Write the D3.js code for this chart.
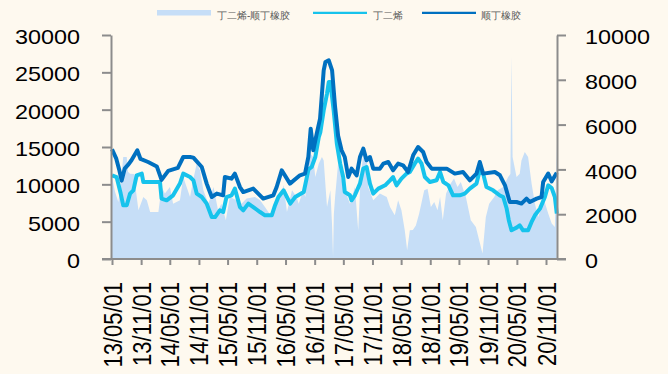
<!DOCTYPE html>
<html>
<head>
<meta charset="utf-8">
<script src="https://cdn.jsdelivr.net/npm/d3@7"></script>
<style>
html,body{margin:0;padding:0;background:#FEF9EF;}
svg{display:block;}
text{font-family:"Liberation Sans",Arial,sans-serif;}
</style>
</head>
<body>
<div id="chart"></div>
<script>
// ---------------- data ----------------
const seriesNames = ["丁二烯-顺丁橡胶", "丁二烯", "顺丁橡胶"];
const xTickLabels = ["13/05/01","13/11/01","14/05/01","14/11/01","15/05/01","15/11/01","16/05/01","16/11/01",
  "17/05/01","17/11/01","18/05/01","18/11/01","19/05/01","19/11/01","20/05/01","20/11/01"];
const leftTicks = [0,5000,10000,15000,20000,25000,30000];
const rightTicks = [0,2000,4000,6000,8000,10000];

// 顺丁橡胶 (left axis)
const brDates = ["2013-05-01","2013-05-28","2013-06-15","2013-07-01","2013-07-20","2013-08-10","2013-09-01","2013-10-08",
 "2013-10-28","2013-12-15","2014-02-08","2014-03-10","2014-04-21","2014-06-21","2014-07-25","2014-09-06","2014-09-27",
 "2014-11-19","2014-12-20","2015-01-21","2015-02-22","2015-04-03","2015-04-14","2015-05-26","2015-06-16","2015-07-18",
 "2015-08-08","2015-10-10","2015-12-12","2016-02-14","2016-03-06","2016-04-07","2016-05-29","2016-07-31","2016-09-01",
 "2016-09-22","2016-10-07","2016-10-23","2016-11-14","2016-12-05","2016-12-17","2016-12-28","2017-01-08","2017-01-29",
 "2017-02-19","2017-03-10","2017-03-29","2017-04-20","2017-05-10","2017-06-01","2017-06-22","2017-07-24","2017-08-14",
 "2017-09-04","2017-09-25","2017-10-16","2017-11-06","2017-12-18","2018-01-09","2018-02-09","2018-03-11","2018-04-12",
 "2018-05-13","2018-06-14","2018-07-16","2018-08-16","2018-09-17","2018-10-09","2018-11-10","2019-02-13","2019-04-05",
 "2019-05-27","2019-07-09","2019-08-20","2019-09-10","2019-10-01","2019-12-14","2020-01-15","2020-02-16","2020-03-17",
 "2020-04-29","2020-05-30","2020-07-01","2020-07-22","2020-09-03","2020-10-04","2020-10-14","2020-11-15","2020-12-07",
 "2021-01-08"];
const brValues = [14700,13440,12000,10500,12100,12600,13215,14555,
 13400,12990,12400,10600,11800,12200,13660,13660,13580,
 12320,10100,8300,8760,8530,10980,10765,11435,9640,
 8970,9425,8090,8530,9640,11880,10100,11210,11435,
 13660,17460,14555,16790,18800,22150,25270,26380,26600,
 25270,20350,16500,14555,13660,10980,12100,11210,13660,
 14780,13215,13660,12100,12100,12770,12990,11880,12770,
 12545,11650,13885,15000,14330,12990,12100,12100,11435,
 11650,10540,11435,12990,11435,11650,11210,9870,7630,
 7630,7420,8090,7630,8090,8300,10310,11450,10400,
 11550];

// 丁二烯 (left axis)
const bdDates = ["2013-05-01","2013-05-30","2013-06-25","2013-07-11","2013-08-02","2013-08-23","2013-09-13","2013-10-04",
 "2013-11-05","2013-11-15","2014-02-28","2014-03-10","2014-04-11","2014-05-22","2014-07-04","2014-07-25","2014-09-06",
 "2014-09-27","2014-10-18","2014-11-19","2014-12-20","2015-01-21","2015-02-11","2015-03-13","2015-04-03","2015-04-24",
 "2015-05-26","2015-06-16","2015-07-18","2015-08-08","2015-09-09","2015-10-10","2015-11-22","2015-12-23","2016-02-04",
 "2016-02-25","2016-03-17","2016-04-19","2016-05-10","2016-05-31","2016-07-01","2016-08-24","2016-09-23","2016-10-13",
 "2016-11-05","2016-11-27","2016-12-07","2016-12-28","2017-01-18","2017-01-29","2017-02-08","2017-03-01","2017-03-21",
 "2017-04-11","2017-04-30","2017-05-10","2017-06-12","2017-06-22","2017-07-13","2017-08-14","2017-09-04","2017-09-25",
 "2017-10-16","2017-11-06","2017-12-08","2018-01-20","2018-02-20","2018-03-11","2018-04-02","2018-05-03","2018-06-04",
 "2018-06-25","2018-07-26","2018-08-16","2018-09-07","2018-09-28","2018-10-30","2018-12-11","2019-01-02","2019-01-23",
 "2019-02-24","2019-03-25","2019-05-06","2019-06-07","2019-07-09","2019-08-20","2019-09-10","2019-10-01","2019-10-22",
 "2019-12-03","2020-01-15","2020-02-05","2020-02-26","2020-03-11","2020-03-28","2020-04-29","2020-05-19","2020-06-09",
 "2020-07-11","2020-08-02","2020-08-23","2020-09-24","2020-10-25","2020-11-15","2020-12-07","2020-12-27","2021-01-08"];
const bdValues = [11210,10980,8760,7190,7190,8760,9200,11210,
 11435,10310,10310,8090,7860,8530,10100,11435,10980,
 10540,8760,8300,7420,5620,5620,6520,6290,8300,
 8530,9425,6960,6520,7420,6960,6290,5850,5850,
 7200,8300,9200,8300,7420,8300,8970,12000,12320,
 13660,16335,17000,19910,22150,23700,23700,19900,15450,
 12770,10980,8970,8530,7860,8530,10100,12100,12320,
 10100,8760,9425,9870,10540,10980,9870,10765,11435,
 11650,12770,13440,12770,10980,10310,10540,11650,10310,
 9870,8530,8530,8760,9425,10100,11880,11435,9640,
 9200,8500,8300,6800,5200,3840,4200,4510,3840,
 3840,4960,5850,6750,8300,9870,9500,8300,6080];

// 丁二烯-顺丁橡胶 (right axis)
const spreadDates = ["2013-05-01","2013-05-20","2013-06-10","2013-06-27","2013-07-11","2013-08-02","2013-08-10","2013-08-23",
 "2013-09-18","2013-09-30","2013-10-15","2013-11-01","2013-11-15","2013-12-07","2013-12-28","2014-02-18","2014-03-10",
 "2014-03-31","2014-05-02","2014-05-22","2014-07-04","2014-07-25","2014-08-11","2014-09-06","2014-09-25","2014-10-18",
 "2014-11-08","2014-11-29","2014-12-31","2015-02-01","2015-03-02","2015-03-23","2015-04-20","2015-05-15","2015-06-27",
 "2015-07-28","2015-08-29","2015-10-21","2015-11-22","2015-12-23","2016-02-04","2016-02-25","2016-03-27","2016-04-19",
 "2016-05-10","2016-06-11","2016-07-10","2016-07-23","2016-08-21","2016-09-03","2016-09-22","2016-10-05","2016-10-23",
 "2016-11-05","2016-11-27","2016-12-17","2016-12-28","2017-01-18","2017-02-08","2017-02-19","2017-02-25","2017-03-02",
 "2017-03-10","2017-03-29","2017-04-09","2017-04-28","2017-05-10","2017-06-12","2017-07-13","2017-08-03","2017-08-17",
 "2017-09-04","2017-09-25","2017-10-05","2017-11-06","2017-12-18","2018-01-30","2018-02-20","2018-03-22","2018-04-12",
 "2018-05-03","2018-05-24","2018-06-08","2018-06-25","2018-07-14","2018-08-02","2018-08-23","2018-09-24","2018-10-15",
 "2018-11-05","2018-11-26","2018-12-17","2019-01-02","2019-01-19","2019-02-09","2019-03-10","2019-03-31","2019-04-22",
 "2019-05-13","2019-06-14","2019-07-15","2019-08-16","2019-09-06","2019-09-27","2019-10-18","2019-11-08","2019-12-10",
 "2019-12-31","2020-02-05","2020-03-07","2020-03-21","2020-03-28","2020-04-04","2020-04-29","2020-05-19","2020-05-30",
 "2020-06-20","2020-07-11","2020-08-02","2020-08-23","2020-09-13","2020-09-24","2020-10-14","2020-11-15","2020-12-07",
 "2020-12-27","2021-01-08"];
const spreadValues = [3660,3000,2545,3500,4550,4550,3900,3810,
 3800,3000,2175,2500,2770,2620,2100,2100,3210,
 2920,3210,2470,2620,3660,3300,2770,3500,4260,
 3960,3070,2470,3210,2175,2470,1730,2770,2620,
 2470,2700,2770,2620,2320,1875,2470,2770,3290,
 2100,3070,2770,2470,3070,2770,4260,4700,4550,
 3660,4260,4550,4400,2320,3070,1500,90,2000,
 2770,4260,4100,3200,3070,2470,3210,1280,3500,
 4700,4700,3210,2620,2920,2770,2320,1950,2620,
 2175,1280,390,1280,1300,1500,2030,3070,3140,
 2320,2545,2175,2770,1730,2920,3370,3590,3210,
 3440,2770,1730,1430,835,240,1875,2470,2770,
 3070,3210,3660,3800,9050,4550,3660,3810,4400,
 4775,4550,3370,2470,1875,2100,2770,2030,1580,
 1430,5200];

// ---------------- chart ----------------
const W = 668, H = 374;
const BG = "#FEF9EF", AXIS = "#8C8C8C";
const colors = ["#C6DEF7", "#17C3EC", "#0070C0"];
const parse = d3.timeParse("%Y-%m-%d");
const parseTick = d3.timeParse("%y/%m/%d");
const fmtTick = d3.timeFormat("%y/%m/%d");
const zip = (ds, vs) => ds.map((d, i) => ({date: parse(d), v: vs[i]}));
const spread = zip(spreadDates, spreadValues);
const bd = zip(bdDates, bdValues);
const br = zip(brDates, brValues);
const xTicks = xTickLabels.map(parseTick);

const svg = d3.select("#chart").append("svg").attr("width", W).attr("height", H);
svg.append("rect").attr("width", W).attr("height", H).attr("fill", BG);

const x = d3.scaleTime().domain([xTicks[0], xTicks[xTicks.length - 1]]).range([112, 546]);
const yL = d3.scaleLinear().domain([0, 30000]).range([259, 35]);
const yR = d3.scaleLinear().domain([0, 10000]).range([259, 35]);

// area
svg.append("path").datum(spread)
  .attr("fill", colors[0])
  .attr("d", d3.area().x(d => x(d.date)).y0(yR(0)).y1(d => yR(d.v)));

// lines
const line = d3.line().x(d => x(d.date)).y(d => yL(d.v));
svg.append("path").datum(bd).attr("fill", "none").attr("stroke", colors[1])
  .attr("stroke-width", 4).attr("stroke-linejoin", "round").attr("d", line);
svg.append("path").datum(br).attr("fill", "none").attr("stroke", colors[2])
  .attr("stroke-width", 4).attr("stroke-linejoin", "round").attr("d", line);

const SX = 1.17;
function styleAxis(g) {
  g.selectAll("path.domain").attr("stroke", AXIS).attr("stroke-width", 2);
  g.selectAll(".tick line").attr("stroke", AXIS).attr("stroke-width", 2);
  g.selectAll("text").attr("fill", "#000").attr("font-size", 20)
    .attr("font-family", "'Liberation Sans', Arial, sans-serif");
}

// left axis
const gL = svg.append("g").attr("transform", "translate(111,0)")
  .call(d3.axisLeft(yL).tickValues(leftTicks).tickSize(9).tickSizeOuter(0).tickFormat(d3.format("d")));
styleAxis(gL);
gL.selectAll(".tick text").attr("x", null).attr("dy", "0.43em").attr("text-anchor", "end")
  .attr("transform", `translate(-31,0) scale(${SX},1)`);

// right axis
const gR = svg.append("g").attr("transform", "translate(557,0)")
  .call(d3.axisRight(yR).tickValues(rightTicks).tickSize(9).tickSizeOuter(0).tickFormat(d3.format("d")));
styleAxis(gR);
gR.selectAll(".tick text").attr("x", null).attr("dy", "0.43em").attr("text-anchor", "start")
  .attr("transform", `translate(28,0) scale(${SX},1)`);

// bottom axis
const gX = svg.append("g").attr("transform", "translate(0,259)")
  .call(d3.axisBottom(x).tickValues(xTicks).tickSize(6).tickSizeOuter(0).tickFormat(fmtTick));
styleAxis(gX);
gX.select("path.domain").remove();
gX.append("line").attr("x1", 111 - 9).attr("x2", 557 + 9).attr("y1", 0).attr("y2", 0)
  .attr("stroke", AXIS).attr("stroke-width", 2);
gX.selectAll(".tick text").attr("y", null).attr("dy", null).attr("text-anchor", "end")
  .attr("font-size", 22)
  .attr("transform", `translate(9,23) scale(1.15,1) rotate(-90)`);

// legend
const legend = svg.append("g");
const legItems = [
  {name: seriesNames[0], type: "area", x: 157, tx: 217},
  {name: seriesNames[1], type: "line", x: 313, tx: 373},
  {name: seriesNames[2], type: "line", x: 422, tx: 481}
];
legItems.forEach((it, i) => {
  if (it.type === "area") {
    legend.append("rect").attr("x", it.x).attr("y", 10).attr("width", 54).attr("height", 5.5).attr("fill", colors[i]);
  } else {
    legend.append("line").attr("x1", it.x).attr("x2", it.x + 54).attr("y1", 12.8).attr("y2", 12.8)
      .attr("stroke", colors[i]).attr("stroke-width", 2.2);
  }
  legend.append("text").attr("x", it.tx).attr("y", 19.3).attr("font-size", 10)
    .attr("font-family", "'Noto Sans CJK SC', sans-serif").attr("fill", "#595959").text(it.name);
});
</script>
</body>
</html>
